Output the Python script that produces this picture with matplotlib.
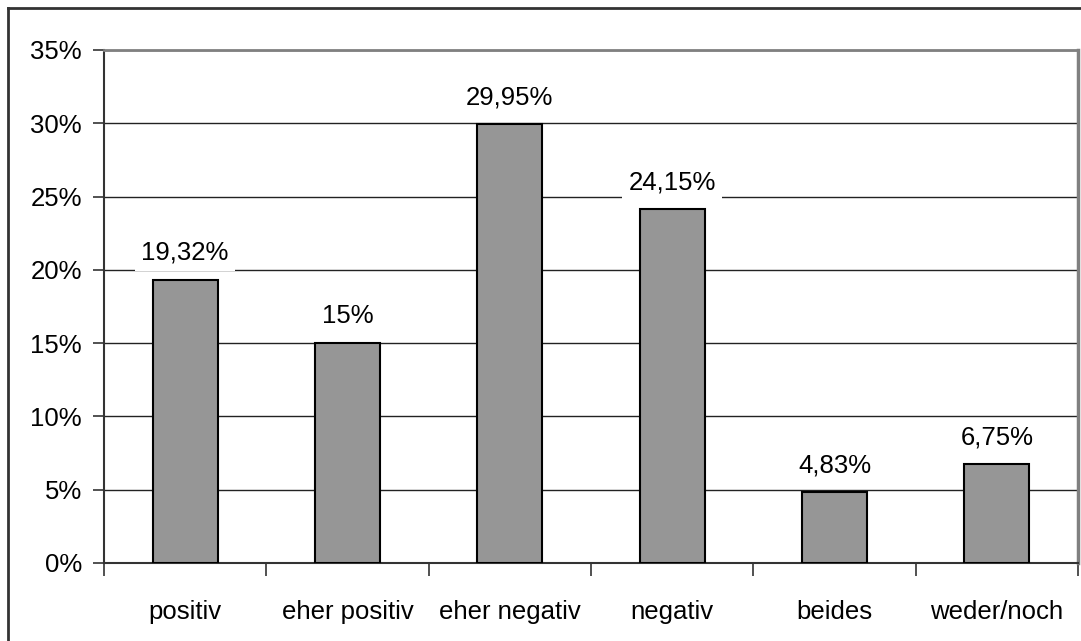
import matplotlib.pyplot as plt
from matplotlib.lines import Line2D
from matplotlib.ticker import FixedLocator, MultipleLocator

plt.rcParams['font.family'] = ['Liberation Sans', 'DejaVu Sans']

categories = ['positiv', 'eher positiv', 'eher negativ', 'negativ', 'beides', 'weder/noch']
values = [19.32, 15, 29.95, 24.15, 4.83, 6.75]
labels = ['19,32%', '15%', '29,95%', '24,15%', '4,83%', '6,75%']
yticks = [0, 5, 10, 15, 20, 25, 30, 35]

fig = plt.figure(figsize=(10.81, 6.41), dpi=100)
ax = fig.add_axes([0.0962, 0.1217, 0.9010, 0.8003])

# outer chart frame (left and top edge only)
fig.add_artist(Line2D([8/1081, 8/1081], [-0.1, 1 - 8/641], color='#333333', lw=2))
fig.add_artist(Line2D([8/1081, 1.1], [1 - 8/641, 1 - 8/641], color='#333333', lw=2))

x = list(range(len(categories)))
bars = ax.bar(x, values, width=0.4, color='#969696', edgecolor='black', linewidth=1.5, zorder=3)

for xi, v, lab in zip(x, values, labels):
    ax.annotate(lab, (xi, v), xytext=(0, 27), textcoords='offset pixels',
                ha='center', va='center', fontsize=18.5, zorder=4,
                bbox=dict(boxstyle='square,pad=0.25', fc='white', ec='none'))

ax.set_xlim(-0.5, len(categories) - 0.5)
ax.set_ylim(0, 35)
ax.set_yticks(yticks)
ax.set_yticklabels([f'{t}%' for t in yticks], fontsize=18.5)
ax.yaxis.grid(True, color='#222222', lw=1, zorder=0)

# category labels centred, tick marks between categories
ax.set_xticks(x)
ax.set_xticklabels(categories, fontsize=18.5)
ax.tick_params(axis='x', which='major', length=0, pad=27)
ax.xaxis.set_minor_locator(FixedLocator([i - 0.5 for i in range(len(categories) + 1)]))
ax.tick_params(axis='x', which='minor', length=9, width=1.2, color='#333333')
ax.tick_params(axis='y', length=8, width=1.2, color='#333333', pad=8)

ax.spines['left'].set_color('#333333')
ax.spines['bottom'].set_color('#333333')
ax.spines['left'].set_linewidth(1.5)
ax.spines['bottom'].set_linewidth(1.5)
ax.spines['top'].set_color('#808080')
ax.spines['right'].set_color('#808080')
ax.spines['top'].set_linewidth(2)
ax.spines['right'].set_linewidth(2.5)

fig.savefig('out.png', dpi=100, facecolor='white')
